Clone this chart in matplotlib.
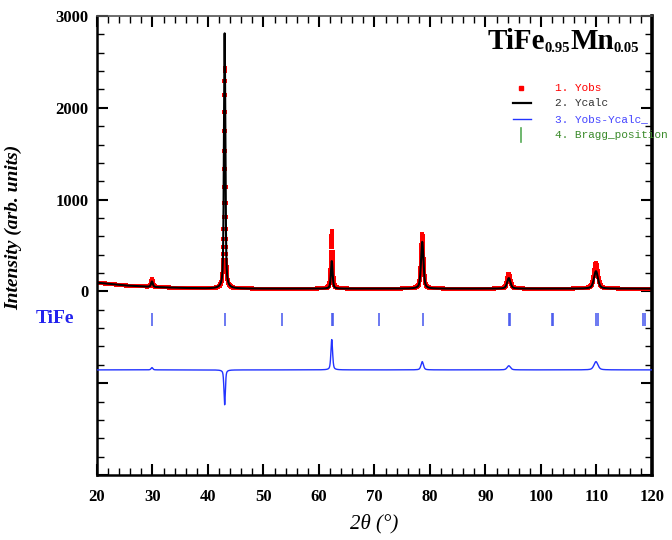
import numpy as np
import matplotlib
matplotlib.use("Agg")
import matplotlib.pyplot as plt
from matplotlib.ticker import MultipleLocator, FixedLocator

# --- values ---
two_theta_range = (20.0, 120.0)
step = 0.02

# background (2theta, counts)
bg_x = [20, 25, 30, 35, 40, 50, 60, 70, 80, 90, 100, 110, 120]
bg_y = [95, 65, 48, 38, 32, 30, 30, 30, 30, 30, 30, 30, 30]

# peaks: position, observed height, calculated height, FWHM
peak_pos = [29.9, 43.0, 62.3, 78.6, 94.2, 109.9]
peak_obs = [85, 2400, 630, 600, 160, 280]
peak_calc = [60, 2780, 300, 510, 115, 190]
peak_fwhm = [0.38, 0.30, 0.36, 0.52, 0.70, 0.85]

bragg_pos = [29.9, 43.0, 53.3, 62.3, 62.5, 70.8, 78.7, 94.2, 94.5,
             101.9, 102.2, 109.9, 110.2, 118.3, 118.7]
diff_offset = -855
bragg_y = (-230, -380)

x_ticks = list(range(20, 121, 10))
y_labelled = [0, 1000, 2000, 3000]


def profile(x, heights):
    y = np.interp(x, bg_x, bg_y)
    for p, h, w in zip(peak_pos, heights, peak_fwhm):
        g = np.exp(-4 * np.log(2) * ((x - p) / w) ** 2)
        lo = 1.0 / (1.0 + 4 * ((x - p) / w) ** 2)
        y = y + h * (0.5 * g + 0.5 * lo)
    return y


x = np.arange(two_theta_range[0], two_theta_range[1] + step / 2, step)
y_obs = profile(x, peak_obs)
y_calc = profile(x, peak_calc)
y_diff = y_obs - y_calc + diff_offset

fig = plt.figure(figsize=(6.72, 5.40), dpi=100)
ax = fig.add_axes([97 / 672, 1 - 475 / 540, 555 / 672, 459 / 540])

ax.plot(x, y_obs, "s", color="red", ms=3.4, mew=0, zorder=2)
ax.plot(x, y_calc, "-", color="black", lw=1.5, zorder=3)
ax.plot(x, y_diff, "-", color="#2233ff", lw=1.0, zorder=3)
ax.vlines(bragg_pos, bragg_y[0], bragg_y[1], color="#4455ee", lw=1.1, zorder=3)

ax.set_xlim(*two_theta_range)
ax.set_ylim(-2000, 3000)

serif = "Liberation Serif"
ax.xaxis.set_major_locator(FixedLocator(x_ticks))
ax.xaxis.set_minor_locator(MultipleLocator(2))
ax.yaxis.set_major_locator(MultipleLocator(1000))
ax.yaxis.set_minor_locator(MultipleLocator(200))
ax.set_xticklabels([str(t) for t in x_ticks], fontfamily=serif,
                   fontweight="bold", fontsize=12)
ax.set_yticks(ax.get_yticks())
ax.set_yticklabels([str(int(t)) if int(t) in y_labelled else ""
                    for t in ax.get_yticks()],
                   fontfamily=serif, fontweight="bold", fontsize=12)
ax.set_ylim(-2000, 3000)

ax.tick_params(which="both", direction="in", top=True, right=True)
ax.tick_params(which="major", length=8, width=1.5, pad=10)
ax.tick_params(which="minor", length=5, width=1.0)
ax.tick_params(axis="y", which="major", pad=6)

for side in ("left", "bottom"):
    ax.spines[side].set_linewidth(1.8)
ax.spines["right"].set_linewidth(2.6)
ax.spines["top"].set_linewidth(1.2)
ax.spines["top"].set_color("#555555")

ax.set_xlabel("2θ (°)", fontfamily=serif, fontstyle="italic", fontsize=15)
ax.xaxis.set_label_coords(0.5, -0.085)
ax.set_ylabel("Intensity (arb. units)", fontfamily=serif, fontstyle="italic",
              fontweight="bold", fontsize=14)
ax.yaxis.set_label_coords(-0.135, 0.54)

ax.text(-0.076, -300, "TiFe", transform=ax.get_yaxis_transform(),
        color="#2222ee", fontfamily=serif, fontweight="bold", fontsize=14,
        ha="center", va="center", clip_on=False)

# title with small-number parts on the baseline
parts = [("TiFe", 21), ("0.95", 10.5), ("Mn", 21), ("0.05", 10.5)]
prev = ax.text(0.703, 0.928, parts[0][0], transform=ax.transAxes,
               fontfamily=serif, fontweight="bold", fontsize=parts[0][1],
               ha="left", va="baseline")
for txt, size in parts[1:]:
    prev = ax.annotate(txt, xy=(1, 0), xycoords=prev, fontfamily=serif,
                       fontweight="bold", fontsize=size,
                       ha="left", va="bottom")

# legend, drawn by hand
mono = "Liberation Mono"
rows = [("1. Yobs", "red"), ("2. Ycalc", "#333333"),
        ("3. Yobs-Ycalc_", "#4444ff"), ("4. Bragg_position", "#3a8a2a")]
row_y = [0.843, 0.810, 0.776, 0.741]
for (label, col), yy in zip(rows, row_y):
    ax.text(0.826, yy, label, transform=ax.transAxes, color=col,
            fontfamily=mono, fontsize=8, ha="left", va="center", clip_on=False)
ax.plot([0.764], [row_y[0]], "s", color="red", ms=3, transform=ax.transAxes)
ax.plot([0.750, 0.782], [row_y[1]] * 2, color="black", lw=1.6,
        transform=ax.transAxes)
ax.plot([0.750, 0.782], [row_y[2]] * 2, color="#2233ff", lw=1.0,
        transform=ax.transAxes)
ax.plot([0.764, 0.764], [row_y[3] - 0.016, row_y[3] + 0.016], color="#55aa55",
        lw=1.2, transform=ax.transAxes)

fig.savefig("out.png", dpi=100)
